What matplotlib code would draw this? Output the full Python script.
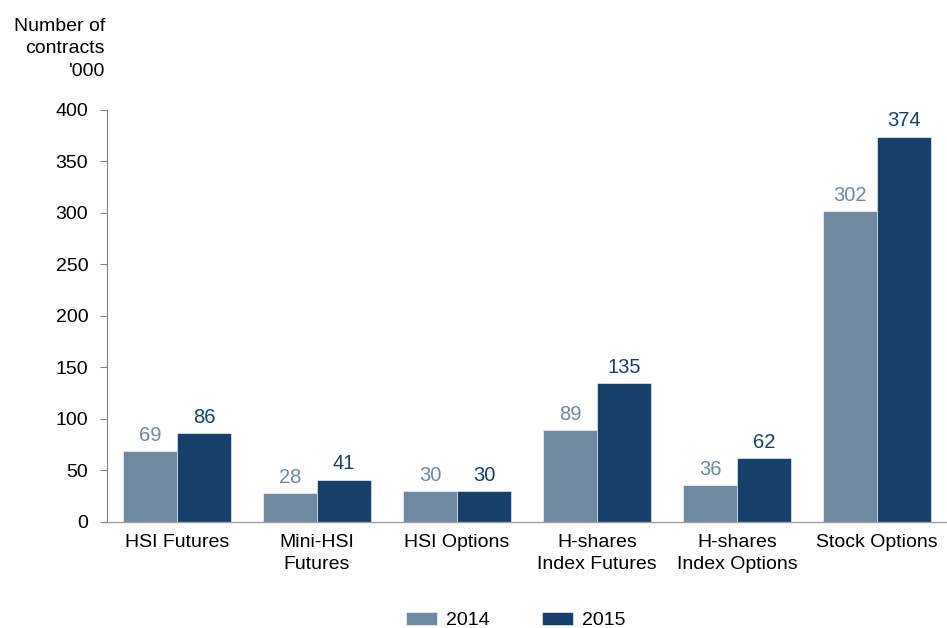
import matplotlib
matplotlib.use("Agg")
import matplotlib.pyplot as plt
import numpy as np

categories = ["HSI Futures", "Mini-HSI\nFutures", "HSI Options", "H-shares\nIndex Futures",
              "H-shares\nIndex Options", "Stock Options"]
values_2014 = [69, 28, 30, 89, 36, 302]
values_2015 = [86, 41, 30, 135, 62, 374]
series_names = ["2014", "2015"]
yticks = [0, 50, 100, 150, 200, 250, 300, 350, 400]

c14 = "#7089A3"
c15 = "#16406A"
fs = 14

plt.rcParams['font.family'] = ['Liberation Sans', 'DejaVu Sans']
fig = plt.figure(figsize=(9.47, 6.28), dpi=100)
ax = fig.add_axes([0.113, 0.169, 0.887, 0.656])

x = np.arange(len(categories))
w = 0.385
b1 = ax.bar(x - w/2, values_2014, w, color=c14, edgecolor="white", linewidth=0.4, label=series_names[0])
b2 = ax.bar(x + w/2, values_2015, w, color=c15, edgecolor="white", linewidth=0.4, label=series_names[1])

for xi, v in zip(x, values_2014):
    ax.text(xi - w/2, v + 6, str(v), ha="center", va="bottom", fontsize=14.5, color=c14)
for xi, v in zip(x, values_2015):
    ax.text(xi + w/2, v + 6, str(v), ha="center", va="bottom", fontsize=14.5, color=c15)

ax.set_xlim(-0.5, 5.5)
ax.set_ylim(0, 400)
ax.set_yticks(yticks)
ax.set_xticks(x)
ax.set_xticklabels(categories, fontsize=fs, linespacing=1.35)
ax.tick_params(axis="x", length=0, pad=9)
ax.tick_params(axis="y", length=5, width=0.8, color="#808080", labelsize=fs, pad=8.5, direction="out")
for s in ["top", "right"]:
    ax.spines[s].set_visible(False)
ax.spines["left"].set_color("#808080")
ax.spines["bottom"].set_color("#A0A0A0")
ax.spines["left"].set_linewidth(0.8)
ax.spines["bottom"].set_linewidth(1.0)

fig.text(0.111, 0.972, "Number of\ncontracts\n'000", ha="right", va="top", fontsize=fs, linespacing=1.45)

leg = fig.legend(handles=[b1, b2], labels=series_names, loc="lower center", bbox_to_anchor=(0.545, -0.03),
                 ncol=2, frameon=False, fontsize=fs, handlelength=1.55, handleheight=0.65,
                 columnspacing=2.7, handletextpad=0.5)

fig.savefig("out.png", dpi=100)
